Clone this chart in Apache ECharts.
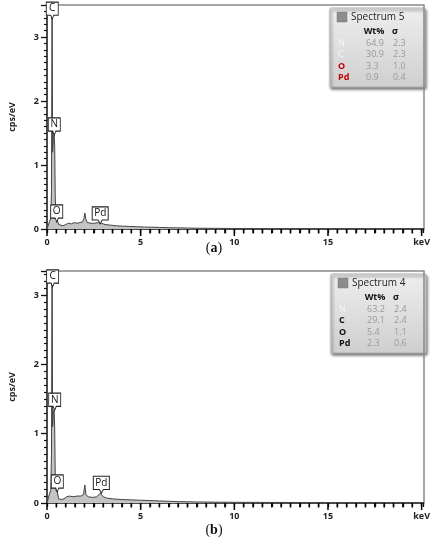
<!DOCTYPE html>
<html><head><meta charset="utf-8">
<script src="https://cdn.jsdelivr.net/npm/echarts@6/dist/echarts.min.js"></script>
<style>html,body{margin:0;padding:0;background:#fff}#c{width:433px;height:550px}</style>
</head><body><div id="c"></div>
<script>
// ---- Data ----
const keVA = [0,0.10,0.14,0.20,0.24,0.27,0.30,0.34,0.38,0.41,0.44,0.48,0.52,0.56,0.62,0.70,0.85,1.00,1.15,1.30,1.45,1.60,1.75,1.90,1.97,2.02,2.07,2.15,2.35,2.55,2.75,2.90,3.10,3.40,3.70,4.00,4.40,4.80,5.20,5.60,6.00,6.50,7.00,7.50,8.00,9.00,10.0,12.0,14.0,17.0,20.0];
const cpsA = [0,0,0.12,0.17,0.6,3.8,1.2,1.4,1.5,1.3,0.5,0.17,0.16,0.13,0.07,0.05,0.05,0.07,0.09,0.08,0.10,0.09,0.10,0.11,0.16,0.25,0.16,0.10,0.09,0.09,0.10,0.09,0.07,0.06,0.05,0.045,0.04,0.035,0.03,0.028,0.025,0.02,0.018,0.015,0.012,0.01,0.008,0.006,0.005,0.004,0.003];
const keVB = [0,0.10,0.14,0.20,0.24,0.27,0.30,0.34,0.38,0.41,0.44,0.48,0.52,0.56,0.62,0.75,0.90,1.05,1.20,1.40,1.60,1.80,1.95,2.02,2.08,2.20,2.45,2.65,2.85,3.00,3.20,3.50,4.00,4.50,5.00,5.50,6.00,6.50,7.00,8.00,9.00,10.0,12.0,15.0,17.0,20.0];
const cpsB = [0,0,0.14,0.18,0.7,3.6,1.1,1.3,1.35,1.1,0.4,0.18,0.18,0.15,0.06,0.05,0.06,0.09,0.10,0.09,0.10,0.10,0.12,0.26,0.12,0.09,0.08,0.09,0.14,0.09,0.07,0.06,0.05,0.045,0.04,0.035,0.03,0.025,0.02,0.015,0.012,0.01,0.008,0.006,0.005,0.004];

const peakNames = ['C','N','O','Pd'];
const peakKeVA = [0.28,0.39,0.52,2.84];
const peakCpsA = [3.28,1.47,0.11,0.08];
const peakKeVB = [0.30,0.41,0.55,2.90];
const peakCpsB = [3.12,1.34,0.16,0.14];

const legendTitleA = 'Spectrum 5';
const legendTitleB = 'Spectrum 4';
const elements = ['N','C','O','Pd'];
const wtA = [64.9,30.9,3.3,0.9];
const sigmaA = [2.3,2.3,1.0,0.4];
const wtB = [63.2,29.1,5.4,2.3];
const sigmaB = [2.4,2.4,1.1,0.6];

const xTickValues = [0,0.5,1,1.5,2,2.5,3,3.5,4,4.5,5,5.5,6,6.5,7,7.5,8,8.5,9,9.5,10,10.5,11,11.5,12,12.5,13,13.5,14,14.5,15,15.5,16,16.5,17,17.5,18,18.5,19,19.5,20];
const xTickLabels = {0:'0',5:'5',10:'10',15:'15',20:'keV'};
const captions = ['a','b'];

// ---- Build ----
const FONT = 'Open Sans';
const XMAX = 20.1;
const zip = (a,b)=>a.map((v,i)=>[v,b[i]]);
const boxPath = 'path://M0,0L12,0L12,12L7.5,12L6,15.5L4.5,12L0,12Z';

function markData(names, xs, ys){
  return names.map((n,i)=>({name:n, coord:[xs[i],ys[i]], symbolSize:[n.length>1?16:12,17]}));
}

function xAxis(gi){
  return {type:'value', gridIndex:gi, position:'bottom', min:0, max:XMAX, interval:0.5,
    axisLine:{show:true, lineStyle:{color:'#111',width:1.5}},
    axisTick:{show:true,interval:0,length:4,lineStyle:{color:'#111',width:1.3}},
    splitLine:{show:false},
    axisLabel:{show:true,interval:0,margin:9,fontFamily:FONT,fontSize:9,fontWeight:'bold',color:'#222',
      formatter:v=>xTickLabels[v]!==undefined?xTickLabels[v]:''}};
}
function xFrame(gi){
  return {type:'value', gridIndex:gi, position:'top', min:0, max:XMAX,
    axisLine:{show:true,onZero:false,lineStyle:{color:'#8a8a8a',width:1.5}},
    axisTick:{show:false}, axisLabel:{show:false}, splitLine:{show:false}};
}
function yAxis(gi,max){
  return {type:'value', gridIndex:gi, position:'left', min:0, max:max, interval:1,
    name:'cps/eV', nameLocation:'middle', nameGap:30, nameRotate:90,
    nameTextStyle:{fontFamily:FONT,fontSize:9,fontWeight:'bold',color:'#222'},
    axisLine:{show:true,lineStyle:{color:'#111',width:1.5}},
    axisTick:{show:true,length:6,lineStyle:{color:'#111',width:1.3}},
    minorTick:{show:true,splitNumber:10,length:3,lineStyle:{color:'#111',width:1.2}},
    splitLine:{show:false},
    axisLabel:{margin:8,fontFamily:FONT,fontSize:9,fontWeight:'bold',color:'#222',
      formatter:v=>Number.isInteger(v)?String(v):''}};
}
function yFrame(gi,max){
  return {type:'value', gridIndex:gi, position:'right', min:0, max:max,
    axisLine:{show:true,onZero:false,lineStyle:{color:'#8a8a8a',width:1.5}},
    axisTick:{show:false}, axisLabel:{show:false}, splitLine:{show:false}};
}
function series(gi,xs,ys,names,pk,pc){
  return {type:'line', xAxisIndex:gi, yAxisIndex:gi, data:zip(xs,ys), symbol:'none', clip:true,
    lineStyle:{color:'#444',width:1}, areaStyle:{color:'#c4c4c4',opacity:1},
    markPoint:{symbol:boxPath, symbolKeepAspect:false, symbolOffset:[0,'-50%'],
      itemStyle:{color:'#fff',borderColor:'#222',borderWidth:1},
      label:{show:true,formatter:'{b}',fontFamily:FONT,fontSize:10,color:'#111',offset:[0,-2]},
      data:markData(names,pk,pc)}};
}
function tickSeries(gi){
  return {type:'custom', xAxisIndex:gi, yAxisIndex:gi, clip:false, silent:true, z:10,
    data:xTickValues.map(v=>[v,0]),
    renderItem:function(params,api){
      const v=api.value(0);
      const p=api.coord([v,0]);
      const len=(v%5===0)?7:4.5;
      return {type:'line',shape:{x1:p[0],y1:p[1],x2:p[0],y2:p[1]+len},style:{stroke:'#000',lineWidth:1.5}};
    }};
}

function legend(x,y,title,wt,sig,elColors,elBold){
  const ch=[];
  ch.push({type:'rect',shape:{x:x,y:y,width:95,height:79,r:1},
    style:{fill:new echarts.graphic.LinearGradient(0,0,0,1,[{offset:0,color:'#eeeeee'},{offset:1,color:'#cfcfcf'}]),
      stroke:'#b5b5b5',lineWidth:1,shadowBlur:3,shadowOffsetX:1,shadowOffsetY:2,shadowColor:'rgba(0,0,0,0.55)'}});
  ch.push({type:'rect',shape:{x:x+7,y:y+4,width:10,height:10},style:{fill:'#8c8c8c',stroke:'#777',lineWidth:0.5}});
  ch.push({type:'text',x:x+21,y:y+9,style:{text:title,font:'10px '+FONT,fill:'#222',verticalAlign:'middle'}});
  ch.push({type:'text',x:x+44,y:y+23,style:{text:'Wt%',font:'bold 9px '+FONT,fill:'#111',align:'center',verticalAlign:'middle'}});
  ch.push({type:'text',x:x+65,y:y+23,style:{text:'σ',font:'bold 9px '+FONT,fill:'#111',align:'center',verticalAlign:'middle'}});
  elements.forEach((e,i)=>{
    const yy=y+35+i*11.5;
    ch.push({type:'text',x:x+8,y:yy,style:{text:e,font:(elBold[i]?'bold ':'')+'9px '+FONT,fill:elColors[i],verticalAlign:'middle'}});
    ch.push({type:'text',x:x+36,y:yy,style:{text:wt[i].toFixed(1),font:'9px '+FONT,fill:'#9a9a9a',verticalAlign:'middle'}});
    ch.push({type:'text',x:x+63,y:yy,style:{text:sig[i].toFixed(1),font:'9px '+FONT,fill:'#9a9a9a',verticalAlign:'middle'}});
  });
  return {type:'group',children:ch};
}

const chart = echarts.init(document.getElementById('c'),null,{renderer:'canvas'});
chart.setOption({
  animation:false,
  backgroundColor:'#fff',
  grid:[
    {left:43,top:5,width:385,height:224},
    {left:44,top:271,width:383,height:232}
  ],
  xAxis:[xAxis(0),xAxis(1),xFrame(0),xFrame(1)],
  yAxis:[yAxis(0,3.5),yAxis(1,3.35),yFrame(0,3.5),yFrame(1,3.35)],
  series:[series(0,keVA,cpsA,peakNames,peakKeVA,peakCpsA),series(1,keVB,cpsB,peakNames,peakKeVB,peakCpsB),tickSeries(0),tickSeries(1)],
  graphic:[
    legend(330,8,legendTitleA,wtA,sigmaA,['#f4f4f4','#f4f4f4','#c00000','#c00000'],[false,false,true,true]),
    legend(331,274,legendTitleB,wtB,sigmaB,['#f4f4f4','#111','#111','#111'],[false,true,true,true]),
    {type:'text',x:214,y:248,style:{text:'({b|'+captions[0]+'})',rich:{b:{font:'bold 14px "Liberation Serif"',fill:'#111'}},font:'14px "Liberation Serif"',fill:'#111',align:'center',verticalAlign:'middle'}},
    {type:'text',x:214,y:530,style:{text:'({b|'+captions[1]+'})',rich:{b:{font:'bold 14px "Liberation Serif"',fill:'#111'}},font:'14px "Liberation Serif"',fill:'#111',align:'center',verticalAlign:'middle'}}
  ]
});
</script></body></html>
